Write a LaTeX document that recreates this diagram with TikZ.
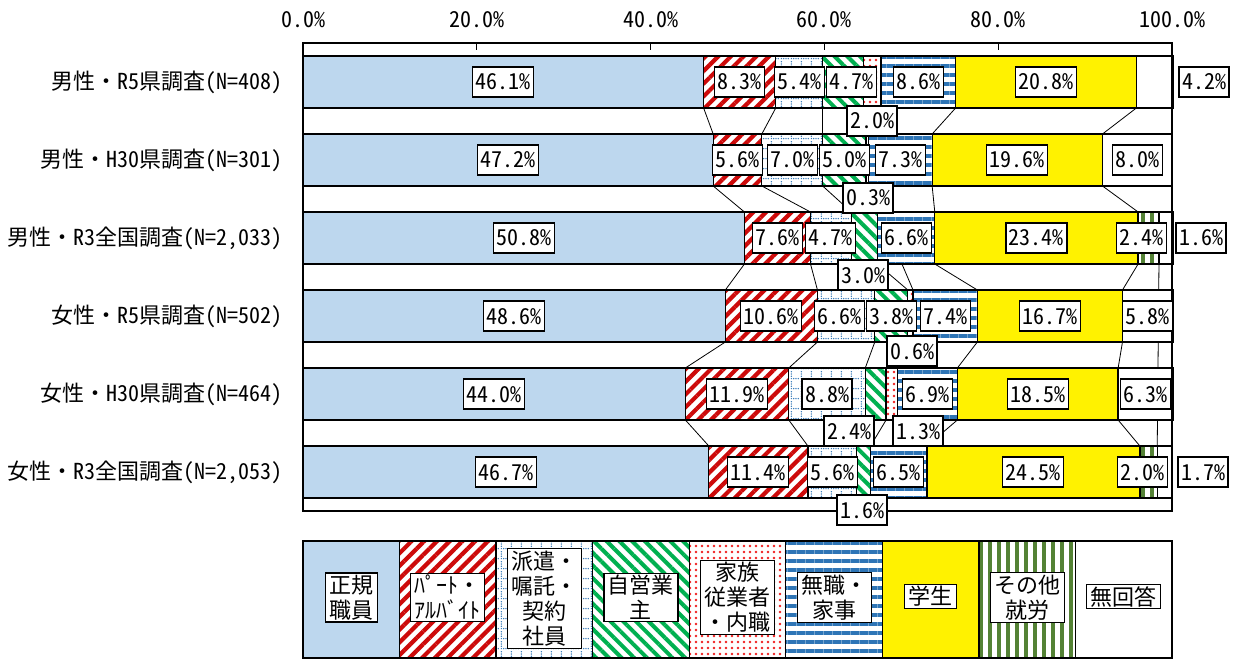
\documentclass[tikz,border=0pt]{standalone}
\usepackage{fontspec}
\setmainfont{Noto Sans CJK JP}
\newfontfamily\hwfont{Noto Sans CJK JP}[RawFeature=+hwid]
\newcommand\hw[1]{{\hwfont #1}}
\usepackage{tikz}
\usetikzlibrary{patterns.meta}
\definecolor{kiseiblue}{RGB}{189,215,238}
\definecolor{paatored}{RGB}{205,10,10}
\definecolor{hakenblue}{RGB}{46,117,182}
\definecolor{jieigreen}{RGB}{0,176,80}
\definecolor{kazokured}{RGB}{240,30,30}
\definecolor{mushokublue}{RGB}{46,117,182}
\definecolor{sonotagreen}{RGB}{84,130,53}

\tikzdeclarepattern{
  name=dotgrid,
  type=uncolored,
  bounding box={(0pt,0pt) and (10pt,10pt)},
  tile size={(10pt,10pt)},
  code={
    \fill (1.5pt,1.5pt) circle (0.8pt);
    \fill (4pt,1.5pt) circle (0.8pt);
    \fill (6.5pt,1.5pt) circle (0.8pt);
    \fill (9pt,1.5pt) circle (0.8pt);
    \fill (1.5pt,4pt) circle (0.8pt);
    \fill (1.5pt,6.5pt) circle (0.8pt);
    \fill (1.5pt,9pt) circle (0.8pt);
  }
}

\pgfdeclarelayer{bg}
\pgfdeclarelayer{fg}
\pgfsetlayers{bg,main,fg}

\tikzset{
  seg/.style={draw,line width=1.3pt,minimum height=52pt,inner sep=0pt,outer sep=0pt,anchor=west},
  kisei/.style={fill=kiseiblue},
  paato/.style={preaction={fill=white},pattern={Lines[angle=45,distance=9pt,line width=4.2pt]},pattern color=paatored},
  haken/.style={preaction={fill=white},pattern=dotgrid,pattern color=hakenblue},
  jiei/.style={preaction={fill=white},pattern={Lines[angle=-45,distance=9pt,line width=4pt]},pattern color=jieigreen},
  kazoku/.style={preaction={fill=white},pattern={Dots[distance=6pt,radius=1.3pt]},pattern color=kazokured},
  mushoku/.style={preaction={fill=white},pattern={Lines[angle=0,distance=9pt,line width=4pt]},pattern color=mushokublue},
  gakusei/.style={fill=yellow},
  sonota/.style={preaction={fill=white},pattern={Lines[angle=90,distance=9pt,line width=3.5pt]},pattern color=sonotagreen},
  mukaitou/.style={fill=white},
  nodata/.style={draw=none},
  pct/.style={draw,fill=white,line width=1.1pt,font=\hwfont\fontsize{22}{24}\selectfont,
    inner xsep=3pt,inner ysep=7pt,text height=16pt,text depth=0pt},
  rowlab/.style={anchor=east,inner sep=0pt,font=\fontsize{22}{26}\selectfont},
  tick/.style={inner sep=0pt,font=\hwfont\fontsize{22}{24}\selectfont},
  sline/.style={line width=0.8pt},
  legcell/.style={minimum width=96.56pt,minimum height=117pt},
  legtxt/.style={draw,fill=white,line width=1.1pt,align=center,inner xsep=4pt,inner ysep=2pt,
    font=\fontsize{22}{25}\selectfont},
  zero/.style={inner sep=0pt,outer sep=0pt,minimum size=0pt}
}

% one bar: name, y, list of value/style/label shift
\newcommand\hbarrow[3]{%
  \node[zero] (#1-0) at (303,#2) {};
  \foreach \v/\s/\dx [count=\k, remember=\k as \p (initially 0)] in {#3}{%
    \pgfmathsetmacro\w{\v*8.69}
    \node[seg,\s,minimum width=\w pt] (#1-\k) at (#1-\p.east) {};
    \ifdim\dx pt<500pt
      \begin{pgfonlayer}{fg}
        \node[pct,xshift=\dx pt] (#1-\k-l) at (#1-\k.center) {\v\%};
      \end{pgfonlayer}
    \fi
  }%
}

\begin{document}
\begin{tikzpicture}[x=1pt,y=-1pt]
  \useasboundingbox (0,0) rectangle (1241,660);
  \begin{pgfonlayer}{bg}
    \fill[white] (0,0) rectangle (1241,660);
  \end{pgfonlayer}

  % axis labels
  \foreach \q in {0,20,40,60,80,100}
    \node[tick] (t\q) at ({303+8.69*\q},20) {\q.0\%};

  % bars
  \hbarrow{r1}{82}{46.1/kisei/0,8.3/paato/0,5.4/haken/0,4.7/jiei/8,2.0/kazoku/999,8.6/mushoku/0,20.8/gakusei/0,0/nodata/999,4.2/mukaitou/999}
  \hbarrow{r2}{160}{47.2/kisei/0,5.6/paato/0,7.0/haken/0,5.0/jiei/0,0.3/kazoku/999,7.3/mushoku/0,19.6/gakusei/0,0/nodata/999,8.0/mukaitou/0}
  \hbarrow{r3}{238}{50.8/kisei/0,7.6/paato/0,4.7/haken/0,3.0/jiei/999,0/nodata/999,6.6/mushoku/0,23.4/gakusei/0,2.4/sonota/-7.5,1.6/mukaitou/999}
  \hbarrow{r4}{316}{48.6/kisei/0,10.6/paato/0,6.6/haken/-7,3.8/jiei/0,0.6/kazoku/999,7.4/mushoku/0,16.7/gakusei/0,0/nodata/999,5.8/mukaitou/0}
  \hbarrow{r5}{394}{44.0/kisei/0,11.9/paato/0,8.8/haken/0,2.4/jiei/999,1.3/kazoku/999,6.9/mushoku/0,18.5/gakusei/0,0/nodata/999,6.3/mukaitou/0}
  \hbarrow{r6}{472}{46.7/kisei/0,11.4/paato/0,5.6/haken/0,1.6/jiei/999,0/nodata/999,6.5/mushoku/0,24.5/gakusei/0,2.0/sonota/-6.5,1.7/mukaitou/999}

  % plot frame and ticks
  \draw[line width=1.3pt] (303,43) rectangle (1172,511);
  \foreach \q in {20,40,60,80}
    \draw[line width=1pt] ({303+8.69*\q},43) -- ++(0,7);

  % row names
  \node[rowlab] (n1) at (283,82) {男性・\hw{R5}県調査\hw{(N=408)}};
  \node[rowlab] (n2) at (283,160) {男性・\hw{H30}県調査\hw{(N=301)}};
  \node[rowlab] (n3) at (283,238) {男性・\hw{R3}全国調査\hw{(N=2,033)}};
  \node[rowlab] (n4) at (283,316) {女性・\hw{R5}県調査\hw{(N=502)}};
  \node[rowlab] (n5) at (283,394) {女性・\hw{H30}県調査\hw{(N=464)}};
  \node[rowlab] (n6) at (283,472) {女性・\hw{R3}全国調査\hw{(N=2,053)}};

  % labels moved off the bars
  \begin{pgfonlayer}{fg}
    \node[pct] (x1) at (872,121) {2.0\%};
    \node[pct] (x2) at (868,198) {0.3\%};
    \node[pct] (x3) at (863,275) {3.0\%};
    \node[pct] (x4) at (912,351) {0.6\%};
    \node[pct] (x5) at (849,431) {2.4\%};
    \node[pct] (x6) at (918,431) {1.3\%};
    \node[pct] (x7) at (862,510) {1.6\%};
    \node[pct] (x8) at (1204,82) {4.2\%};
    \node[pct] (x9) at (1201,238) {1.6\%};
    \node[pct] (x10) at (1203,472) {1.7\%};
  \end{pgfonlayer}

  % series lines
  \begin{pgfonlayer}{bg}
    \foreach \a/\b in {1/2,2/3,3/4,4/5,5/6}
      \foreach \k in {1,2,3,4,6,7}
        \draw[sline] (r\a-\k.south east) -- (r\b-\k.north east);
    \draw[sline] (r1-5.south east) -- (r2-5.north east);
    \draw[sline] (r2-5.south east) -- (r4-5.north east);
    \draw[sline] (r4-5.south east) -- (r5-5.north east);
    \draw[sline] (r3-8.south east) -- (r6-8.north east);
  \end{pgfonlayer}

  % legend
  \node[zero] (g0) at (303,599.5) {};
  \foreach \s [count=\k, remember=\k as \p (initially 0)] in {kisei,paato,haken,jiei,kazoku,mushoku,gakusei,sonota,mukaitou}
    \node[seg,\s,legcell] (g\k) at (g\p.east) {};
  \node[legtxt] (gt1) at ([yshift=2pt]g1.center) {正規\\職員};
  \node[legtxt] (gt2) at ([yshift=2pt]g2.center) {ﾊﾟｰﾄ・\\ｱﾙﾊﾞｲﾄ};
  \node[legtxt] (gt3) at ([yshift=1pt]g3.center) {派遣・\\嘱託・\\契約\\社員};
  \node[legtxt] (gt4) at ([yshift=2pt]g4.center) {自営業\\主};
  \node[legtxt] (gt5) at ([yshift=2pt]g5.center) {家族\\従業者\\・内職};
  \node[legtxt] (gt6) at ([yshift=2pt]g6.center) {無職・\\家事};
  \node[legtxt] (gt7) at ([yshift=3pt]g7.center) {学生};
  \node[legtxt] (gt8) at ([yshift=2pt]g8.center) {その他\\就労};
  \node[legtxt] (gt9) at ([yshift=3pt]g9.center) {無回答};
\end{tikzpicture}
\end{document}
